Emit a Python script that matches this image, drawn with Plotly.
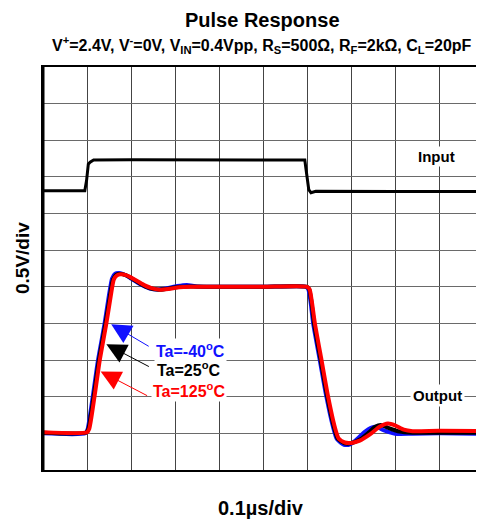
import plotly.graph_objects as go

# ---- data (x in time divisions of 0.1us, y in vertical divisions of 0.5V) ----
input_t = [0.0, 0.95, 0.99, 1.03, 1.07, 1.15, 2.0, 4.0, 5.95, 5.99, 6.04, 6.09, 6.2, 8.0, 10.0]
input_v = [7.62, 7.62, 7.9, 8.35, 8.40, 8.46, 8.47, 8.46, 8.46, 8.1, 7.65, 7.57, 7.61, 7.60, 7.60]

red_t = [0.0, 1.0, 1.05, 1.17, 1.29, 1.44, 1.54, 1.61, 1.68, 1.76, 1.9, 2.05, 2.25, 2.45, 2.65, 2.85, 3.1, 3.35,
         4.0, 5.0, 6.0, 6.06, 6.11, 6.18, 6.33, 6.48, 6.63, 6.72, 6.86, 7.01, 7.2, 7.43, 7.65, 7.84, 8.0, 8.2,
         8.4, 9.0, 10.0]
red_v = [1.03, 1.03, 1.12, 2.0, 3.0, 4.0, 4.75, 5.2, 5.31, 5.34, 5.31, 5.22, 5.08, 4.97, 4.92, 4.94, 4.99, 5.0,
         5.0, 5.0, 5.0, 4.93, 4.6, 4.0, 3.0, 2.0, 1.18, 0.86, 0.75, 0.74, 0.8, 0.97, 1.18, 1.27, 1.22, 1.1,
         1.06, 1.07, 1.06]

black_t = [0.0, 0.98, 1.03, 1.15, 1.27, 1.42, 1.52, 1.59, 1.66, 1.74, 1.88, 2.03, 2.23, 2.43, 2.63, 2.83, 3.1,
           3.35, 4.0, 5.0, 6.0, 6.05, 6.10, 6.16, 6.31, 6.46, 6.61, 6.70, 6.85, 7.0, 7.2, 7.4, 7.55, 7.68,
           7.85, 8.1, 8.4, 9.0, 10.0]
black_v = [1.02, 1.02, 1.12, 2.0, 3.0, 4.0, 4.75, 5.2, 5.33, 5.36, 5.32, 5.22, 5.07, 4.96, 4.92, 4.95, 5.0,
           5.01, 5.0, 5.0, 5.0, 4.93, 4.6, 4.0, 3.0, 2.0, 1.18, 0.85, 0.73, 0.73, 0.83, 1.02, 1.18, 1.23,
           1.15, 1.05, 1.02, 1.02, 1.02]

blue_t = [0.0, 0.96, 1.01, 1.13, 1.25, 1.40, 1.50, 1.57, 1.64, 1.72, 1.86, 2.01, 2.21, 2.41, 2.61, 2.81, 3.05,
          3.27, 3.5, 4.0, 5.0, 5.98, 6.03, 6.08, 6.14, 6.29, 6.44, 6.59, 6.68, 6.84, 6.98, 7.15, 7.32, 7.45,
          7.58, 7.75, 8.0, 8.4, 9.0, 10.0]
blue_v = [1.0, 1.0, 1.1, 2.0, 3.0, 4.0, 4.78, 5.23, 5.36, 5.38, 5.33, 5.22, 5.07, 4.96, 4.93, 4.96, 5.02,
          5.05, 5.01, 5.0, 5.0, 5.0, 4.93, 4.6, 4.0, 3.0, 2.0, 1.18, 0.84, 0.69, 0.70, 0.86, 1.05, 1.15,
          1.18, 1.08, 0.99, 0.99, 1.0, 0.99]

series_names = ["Ta=-40<sup>o</sup>C", "Ta=25<sup>o</sup>C", "Ta=125<sup>o</sup>C"]
series_colors = ["#1010ff", "#000000", "#ff0000"]

FONT = "Arial, Liberation Sans, sans-serif"

fig = go.Figure()
fig.add_trace(go.Scatter(x=input_t, y=input_v, mode="lines",
                         line=dict(color="#000000", width=3), showlegend=False))
for t, v, c in [(blue_t, blue_v, series_colors[0]), (black_t, black_v, series_colors[1]),
                (red_t, red_v, series_colors[2])]:
    fig.add_trace(go.Scatter(x=t, y=v, mode="lines", line=dict(color=c, width=4, shape="spline", smoothing=0.6),
                             showlegend=False))

# page has an 8px body margin, so the figure is sized to fit the window
OFF = 8
W, H = 484 - OFF, 520 - OFF
L, R, T, B = 43 - OFF, 1, 67 - OFF, 50
X0, X1, Y0, Y1 = 43, 483, 67, 470  # plot area in page pixels


def px(p):
    return (p - X0) / (X1 - X0)


def py(p):
    return (Y1 - p) / (Y1 - Y0)


annotations = [
    dict(text="<b>Pulse Response</b>", x=px(262), y=py(20), xref="paper", yref="paper",
         xanchor="center", yanchor="middle",
         showarrow=False, font=dict(size=20, family=FONT, color="#000")),
    dict(text="<b>V<sup>+</sup>=2.4V, V<sup>-</sup>=0V, V<sub>IN</sub>=0.4Vpp, R<sub>S</sub>=500Ω, "
              "R<sub>F</sub>=2kΩ, C<sub>L</sub>=20pF</b>",
         x=px(262), y=py(45), xref="paper", yref="paper", showarrow=False,
         xanchor="center", yanchor="middle",
         font=dict(size=16, family=FONT, color="#000")),
    dict(text="<b>0.1µs/div</b>", x=px(261), y=py(508), xref="paper", yref="paper",
         xanchor="center", yanchor="middle",
         showarrow=False, font=dict(size=20, family=FONT, color="#000")),
    dict(text="<b>0.5V/div</b>", x=px(22), y=py(258), xref="paper", yref="paper",
         xanchor="center", yanchor="middle",
         showarrow=False, textangle=-90, font=dict(size=19, family=FONT, color="#000")),
    dict(text="<b>Input</b>", x=8.95, y=8.57, showarrow=False, bgcolor="white", borderpad=1,
         font=dict(size=15, family=FONT, color="#000")),
    dict(text="<b>Output</b>", x=8.97, y=2.02, showarrow=False, bgcolor="white", borderpad=2,
         font=dict(size=15, family=FONT, color="#000")),
]

label_pos = [(3.35, 3.28), (3.31, 2.76), (3.32, 2.18)]
arrow_tip = [(1.55, 3.98), (1.44, 3.43), (1.31, 2.69)]
arrow_off = [(39, 23), (44, 23), (48, 25)]
for name, col, (lx, ly), (tx, ty), (ax, ay) in zip(series_names, series_colors, label_pos, arrow_tip, arrow_off):
    annotations.append(dict(x=tx, y=ty, ax=ax, ay=ay, text="", showarrow=True, arrowhead=2,
                            arrowsize=4, arrowwidth=1, arrowcolor=col, standoff=0))
    annotations.append(dict(text="<b>" + name + "</b>", x=lx, y=ly, showarrow=False, bgcolor="white",
                            borderpad=1, font=dict(size=16, family=FONT, color=col)))

fig.update_layout(
    width=W, height=H, margin=dict(l=L, r=R, t=T, b=B, autoexpand=False),
    paper_bgcolor="white", plot_bgcolor="white",
    annotations=annotations,
    xaxis=dict(range=[0, 10], dtick=1, showgrid=True, gridcolor="#444", gridwidth=1, zeroline=False,
               showticklabels=False, ticks="", showline=True, linecolor="#000", linewidth=2, mirror=True),
    yaxis=dict(range=[0, 11], dtick=1, showgrid=True, gridcolor="#6a6a6a", gridwidth=1, zeroline=False,
               showticklabels=False, ticks="", showline=True, linecolor="#000", linewidth=2, mirror=True),
)
fig.add_shape(type="line", xref="paper", yref="paper", x0=0, x1=0, y0=0, y1=1,
              line=dict(color="#000", width=3))

fig.write_html("out.html")
